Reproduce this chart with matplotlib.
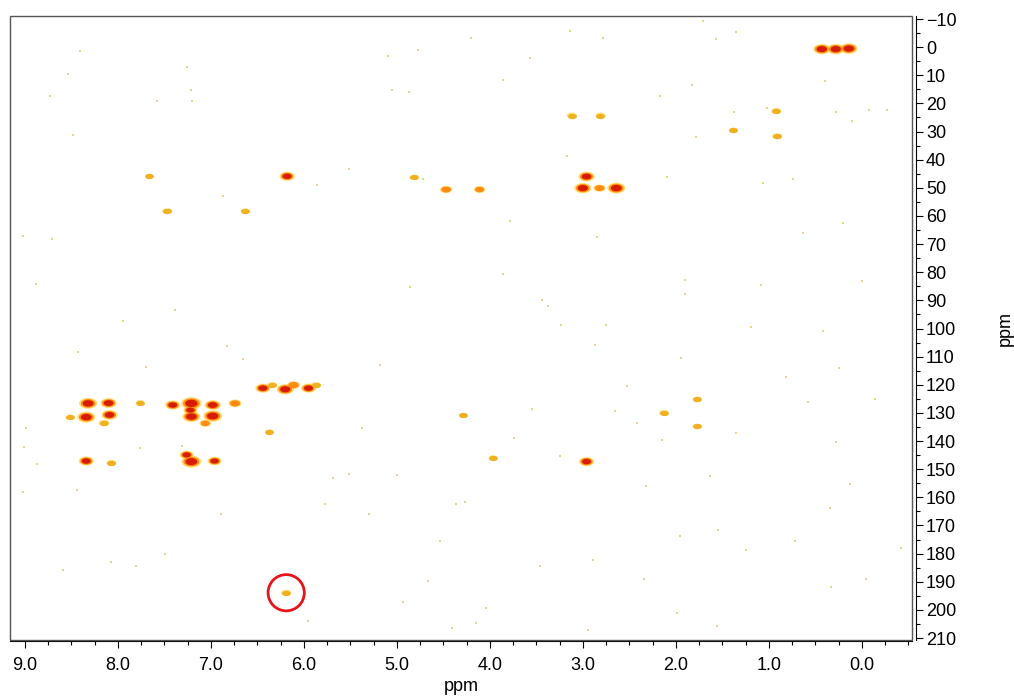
"""HMBC-спектр: 1H (ppm) против 13C (ppm)"""

import matplotlib
matplotlib.use('Agg')
import matplotlib.pyplot as plt
import numpy as np
from matplotlib.path import Path
from matplotlib.patches import Rectangle
from matplotlib.ticker import MultipleLocator, FormatStrFormatter

plt.rcParams['font.family'] = ['Liberation Sans', 'DejaVu Sans']

# кросс-пики: 1H сдвиг, 13C сдвиг, относительная интенсивность
peak_h = [8.32, 8.10, 8.34, 8.09, 8.15, 8.34, 8.07,
          7.41, 7.21, 6.98, 6.74, 7.22, 7.21, 6.98, 7.06, 7.21, 7.26, 6.96,
          6.44, 6.20, 6.11, 5.95, 6.34, 5.87,
          6.18, 2.96, 3.00, 2.82, 2.64, 2.96,
          0.43, 0.28, 0.14,
          4.47, 4.11, 3.12, 2.81, 0.92, 0.91, 1.38,
          1.77, 2.13, 1.77, 7.47, 6.63, 7.76, 8.52, 7.66, 4.82, 4.29, 3.97, 6.37,
          6.19]
peak_c = [126.6, 126.5, 131.5, 130.7, 133.6, 147.1, 147.8,
          127.2, 126.6, 127.2, 126.6, 129.0, 131.3, 131.1, 133.7, 147.3, 144.9, 147.1,
          121.2, 121.6, 120.1, 121.2, 120.1, 120.1,
          45.9, 46.0, 50.1, 50.1, 50.1, 147.3,
          0.7, 0.7, 0.5,
          50.6, 50.6, 24.3, 24.3, 22.7, 31.7, 29.6,
          125.2, 129.9, 134.8, 58.3, 58.3, 126.3, 131.6, 45.9, 46.3, 130.9, 145.9, 136.7,
          193.9]
peak_i = [1.0, 0.8, 1.0, 0.8, 0.35, 0.7, 0.3,
          0.7, 1.3, 0.8, 0.5, 0.6, 1.0, 1.1, 0.4, 1.2, 0.6, 0.6,
          0.7, 0.9, 0.5, 0.7, 0.3, 0.3,
          0.7, 0.8, 0.9, 0.45, 1.0, 0.7,
          0.9, 0.9, 0.95,
          0.45, 0.4, 0.3, 0.3, 0.3, 0.3, 0.25,
          0.25, 0.25, 0.25, 0.3, 0.25, 0.2, 0.2, 0.2, 0.2, 0.2, 0.2, 0.2,
          0.3]

# отмеченный сигнал
mark_h = [6.19]
mark_c = [193.9]

# шумовые точки
noise_h = [8.41, 8.54, 7.26, 7.21, 7.20, 5.10, 4.77, 5.05, 4.87, 8.73, 7.58, 8.48,
           5.51, 4.72, 5.86, 6.87, 9.02, 8.71, 4.86, 8.88, 7.39, 7.94, 8.43, 6.83,
           6.65, 7.70, 5.18, 8.99, 5.38, 9.01, 8.87, 7.31, 7.76, 5.69, 5.51, 5.00,
           8.44, 5.77, 5.30, 6.89, 7.80, 8.07, 7.49, 4.54, 4.66, 4.41, 5.95, 8.59,
           9.02, 4.93, 4.36,
           4.20, 3.14, 2.78, 1.71, 1.57, 1.35, 3.86, 3.57, 1.83, 2.17, 1.02, 1.78,
           1.37, 0.28, 0.11, -0.08, -0.27, 0.40, 3.17, 3.78, 0.20, 0.63, 2.10, 0.74,
           1.06, 2.85, 1.90, 1.90, 1.08, 0.00, 3.86, 3.44, 3.37, 3.23, 2.75, 1.19,
           0.42, 2.87, 1.94, 0.24, 0.81, 2.53, 1.35, 2.42, 2.65, 3.55, 0.28, 0.58,
           -0.14, 2.15, 3.74, 3.25, 2.32, 1.63, 0.13, 4.27, 0.34, 1.96, 0.72, 1.55,
           2.89, -0.42, 3.46, 2.34, -0.05, 4.15, 2.94, 1.56, 1.99, 4.04, 0.33, 1.25]
noise_c = [1.4, 9.5, 7.1, 15.1, 19.0, 3.1, 1.0, 15.1, 15.8, 17.3, 19.0, 31.2,
           43.2, 47.0, 49.1, 53.0, 67.1, 68.3, 85.2, 84.1, 93.4, 97.3, 108.2, 106.2,
           111.0, 113.8, 112.9, 135.5, 135.5, 142.2, 148.3, 141.9, 142.6, 153.2, 151.8, 152.1,
           157.5, 162.4, 166.0, 166.0, 184.4, 183.0, 180.1, 175.6, 189.8, 206.4, 203.9, 185.8,
           158.2, 197.1, 162.4,
           -3.3, -5.7, -3.3, -9.4, -2.9, -5.4, 11.6, 3.8, 13.3, 17.3, 21.8, 31.9,
           23.2, 22.9, 26.2, 22.2, 22.2, 11.9, 38.8, 61.9, 62.6, 66.1, 46.3, 46.7,
           48.4, 67.5, 82.7, 87.8, 84.5, 83.1, 80.7, 89.8, 92.1, 98.7, 98.7, 99.4,
           100.8, 105.8, 110.5, 114.0, 117.1, 120.4, 137.0, 133.7, 129.2, 128.5, 140.2, 126.0,
           125.2, 139.5, 138.8, 145.4, 156.1, 152.5, 155.4, 161.7, 163.8, 173.8, 175.6, 171.6,
           182.3, 178.0, 184.4, 189.1, 189.1, 204.5, 207.1, 205.6, 201.1, 199.3, 191.9, 178.7]


fig = plt.figure(figsize=(10.14, 6.98), dpi=100)
ax = fig.add_axes([10 / 1014, 1 - 640 / 698, 902 / 1014, 624 / 698])

# эллиптический маркер (пики вытянуты по оси 1H)
t = np.linspace(0, 2 * np.pi, 60)
ell = Path(np.column_stack([np.cos(t), 0.6 * np.sin(t)]), closed=True)

h = np.array(peak_h); c = np.array(peak_c); inten = np.array(peak_i)

ax.scatter(noise_h, noise_c, s=4, marker='s', color='#e6d68c', linewidths=0, zorder=1)

ax.scatter(h, c, s=170 * inten, marker=ell, color='#ffd75a', alpha=0.8, linewidths=0, zorder=2)
m = inten >= 0.4
ax.scatter(h[m], c[m], s=110 * inten[m], marker=ell, color='#ff8c10', linewidths=0, zorder=3)
m = inten >= 0.6
ax.scatter(h[m], c[m], s=60 * inten[m], marker=ell, color='#d71d00', linewidths=0, zorder=4)
m = inten < 0.4
ax.scatter(h[m], c[m], s=40, marker=ell, color='#f0b020', linewidths=0, zorder=3)

ax.scatter(mark_h, mark_c, s=680, marker='o', facecolors='none',
           edgecolors='#e8141c', linewidths=2, zorder=5)

ax.set_xlim(9.16, -0.54)
ax.set_ylim(210.7, -11.07)

# рамка + отдельные оси справа и снизу
for s in ['left', 'top']:
    ax.spines[s].set_visible(False)
ax.spines['right'].set_position(('outward', 3))
ax.spines['bottom'].set_position(('outward', 1))
ax.add_patch(Rectangle((0, 0), 1, 1, transform=ax.transAxes, fill=False,
                       edgecolor='#555555', linewidth=1, clip_on=False, zorder=6))

ax.yaxis.tick_right()
ax.xaxis.set_major_locator(MultipleLocator(1.0))
ax.xaxis.set_minor_locator(MultipleLocator(0.25))
ax.xaxis.set_major_formatter(FormatStrFormatter('%.1f'))
ax.yaxis.set_major_locator(MultipleLocator(10))
ax.yaxis.set_minor_locator(MultipleLocator(5))
ax.tick_params(axis='both', which='major', length=5, width=0.8, labelsize=13, direction='out')
ax.tick_params(axis='both', which='minor', length=3, width=0.8, direction='out')
ax.tick_params(axis='x', pad=6)
ax.tick_params(axis='y', pad=2)

ax.set_xlabel('ppm', fontsize=13, labelpad=3)
ax.set_ylabel('ppm', fontsize=13)
ax.yaxis.set_label_position('right')
ax.yaxis.set_label_coords(1.094, 0.5)

plt.savefig('out.png', dpi=100)
